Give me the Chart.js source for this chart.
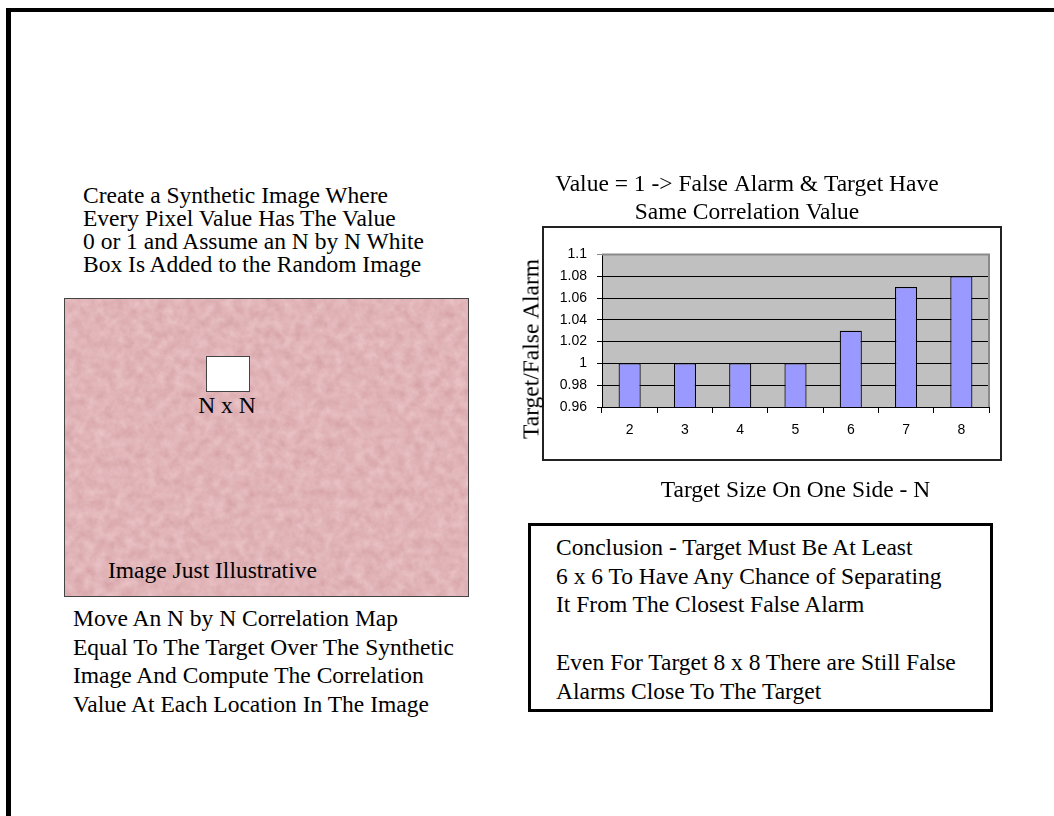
<!DOCTYPE html>
<html>
<head>
<meta charset="utf-8">
<script src="https://cdn.jsdelivr.net/npm/chart.js@4"></script>
<style>
  body { margin: 0; width: 1054px; height: 816px; overflow: hidden; background: #fff; position: relative; font-family: "Liberation Serif", "Times New Roman", serif; color: #000; }
  .frame { position: absolute; left: 6px; top: 8px; width: 1200px; height: 1000px; border-left: 5px solid #000; border-top: 4px solid #000; }
  .txt { position: absolute; font-size: 23.5px; white-space: nowrap; }
  .photo { position: absolute; left: 64px; top: 298px; width: 405px; height: 299px; border: 1px solid #444; box-sizing: border-box; overflow: hidden; }
  .photo svg { position: absolute; left: 0; top: 0; }
  .target { position: absolute; left: 141px; top: 57px; width: 44px; height: 36px; background: #fff; border: 1px solid #444; box-sizing: border-box; }
  .chartBox { position: absolute; left: 542px; top: 226px; width: 460px; height: 235px; border: 2px solid #222; box-sizing: border-box; }
  .chartWrap { position: absolute; left: 505px; top: 168px; width: 540px; height: 337px; }
  .yTitle { position: absolute; left: 531px; top: 349px; font-size: 23.5px; white-space: nowrap; transform: translate(-50%, -50%) rotate(-90deg); }
  .note { position: absolute; left: 528px; top: 523px; width: 465px; height: 189px; border: 3px solid #000; box-sizing: border-box; }
</style>
</head>
<body>
<div class="frame"></div>

<div class="txt" style="left:83px; top:184px; line-height:23px;">
  Create a Synthetic Image Where<br>
  Every Pixel Value Has The Value<br>
  0 or 1 and Assume an N by N White<br>
  Box Is Added to the Random Image
</div>

<div class="photo">
  <svg width="405" height="299">
    <filter id="paper" x="0" y="0" width="100%" height="100%" color-interpolation-filters="sRGB">
      <feTurbulence type="fractalNoise" baseFrequency="0.1" numOctaves="4" seed="7"/>
      <feColorMatrix type="matrix" values="0.10 0 0 0 0.83  0.16 0 0 0 0.625  0.16 0 0 0 0.64  0 0 0 0 1"/>
    </filter>
    <rect width="405" height="299" filter="url(#paper)"/>
  </svg>
  <div class="target"></div>
  <div class="txt" style="left:162px; top:93px; width:0;"><span style="display:inline-block; transform:translateX(-50%);">N x N</span></div>
  <div class="txt" style="left:43px; top:258px;">Image Just Illustrative</div>
</div>

<div class="txt" style="left:73px; top:604px; line-height:28.5px;">
  Move An N by N Correlation Map<br>
  Equal To The Target Over The Synthetic<br>
  Image And Compute The Correlation<br>
  Value At Each Location In The Image
</div>

<div class="chartBox"></div>
<div class="chartWrap"><canvas id="ratioChart"></canvas></div>
<div class="yTitle">Target/False Alarm</div>

<div class="note">
  <div class="txt" style="left:25px; top:7px; line-height:28.7px;">
    Conclusion - Target Must Be At Least<br>
    6 x 6 To Have Any Chance of Separating<br>
    It From The Closest False Alarm<br>
    <br>
    Even For Target 8 x 8 There are Still False<br>
    Alarms Close To The Target
  </div>
</div>

<script>
// target size N on one side, and target / false alarm correlation ratio
const targetSizes = ['2', '3', '4', '5', '6', '7', '8'];
const ratioValues = [1, 1, 1, 1, 1.03, 1.07, 1.08];
const ratioTicks = [0.96, 0.98, 1, 1.02, 1.04, 1.06, 1.08, 1.1];
const chartTitle = ['Value = 1 -> False Alarm & Target Have', 'Same Correlation Value'];

Chart.defaults.color = '#000';

// grey plot area with a darker top/right edge
const plotArea = {
  id: 'plotArea',
  beforeDraw(chart) {
    const { ctx, chartArea: a } = chart;
    ctx.save();
    ctx.fillStyle = '#c0c0c0';
    ctx.fillRect(a.left, a.top, a.width, a.height);
    ctx.restore();
  },
  beforeDatasetsDraw(chart) {
    const { ctx, chartArea: a } = chart;
    ctx.save();
    ctx.strokeStyle = '#8a8a8a';
    ctx.lineWidth = 2;
    ctx.beginPath();
    ctx.moveTo(a.left, a.top);
    ctx.lineTo(a.right, a.top);
    ctx.lineTo(a.right, a.bottom);
    ctx.stroke();
    ctx.restore();
  }
};

const ctx = document.getElementById('ratioChart').getContext('2d');
const ratioChart = new Chart(ctx, {
  type: 'bar',
  data: {
    labels: targetSizes,
    datasets: [{
      data: ratioValues,
      backgroundColor: '#9999ff',
      borderColor: '#000',
      borderWidth: 1.2,
      borderSkipped: false,
      barPercentage: 0.4,
      categoryPercentage: 1
    }]
  },
  options: {
    responsive: true,
    maintainAspectRatio: false,
    animation: false,
    layout: { padding: { left: 0, right: 56, top: 0, bottom: 0 } },
    plugins: {
      legend: { display: false },
      tooltip: { enabled: false },
      title: {
        display: true,
        text: chartTitle,
        color: '#000',
        font: { family: 'Liberation Serif', size: 23.5, weight: 'normal', lineHeight: 1.2 },
        padding: { top: 3, bottom: 27 }
      }
    },
    scales: {
      x: {
        grid: { offset: true, drawOnChartArea: false, tickLength: 6, color: '#000' },
        border: { color: '#000', width: 1 },
        ticks: { padding: 9, font: { family: 'Liberation Sans', size: 14 } },
        title: {
          display: true,
          text: 'Target Size On One Side - N',
          font: { family: 'Liberation Serif', size: 23.5, lineHeight: 1.2 },
          padding: { top: 0, bottom: 0 }
        },
        afterFit: s => { s.height = 98; }
      },
      y: {
        min: 0.96,
        max: 1.1,
        afterBuildTicks: s => { s.ticks = ratioTicks.map(v => ({ value: v })); },
        grid: {
          tickLength: 5,
          color: c => (c.index === ratioTicks.length - 1 ? '#8a8a8a' : '#000')
        },
        border: { color: '#000', width: 1 },
        ticks: {
          padding: 10,
          font: { family: 'Liberation Sans', size: 14 },
          callback: v => String(Number(v.toFixed(2)))
        },
        afterFit: s => { s.width = 97; }
      }
    }
  },
  plugins: [plotArea]
});
</script>
</body>
</html>
